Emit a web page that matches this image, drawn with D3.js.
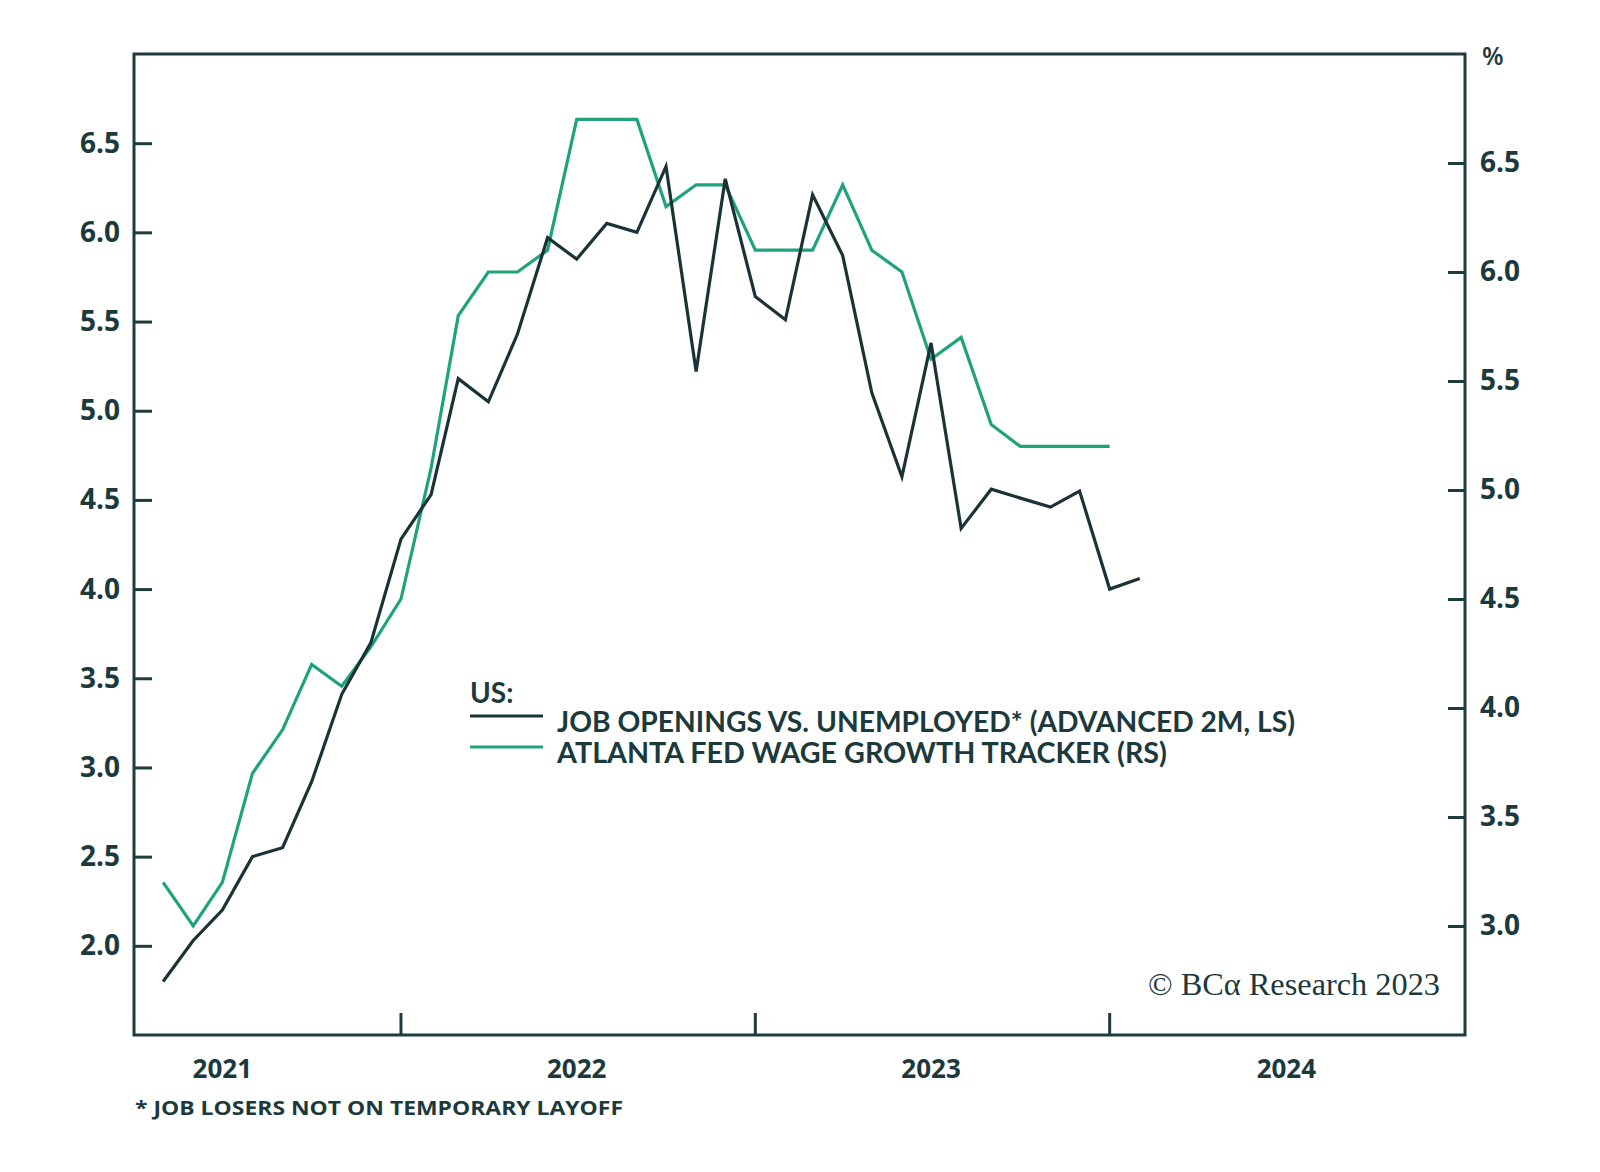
<!DOCTYPE html>
<html lang="en">
<head>
  <meta charset="UTF-8">
  <title>US: job openings vs. unemployed and wage growth</title>
  <style>
    html, body { margin: 0; padding: 0; background: #fff; }
    svg text { font-family: "Open Sans", Lato, sans-serif; fill: #1c393c; }
  </style>
</head>
<body>
<div class="chart"></div>
<script src="https://cdn.jsdelivr.net/npm/d3@7"></script>
<script>
  // monthly observations, first one is May 2021
  const startMonth = "2021-05";
  const jobOpenings = [1.80, 2.03, 2.20, 2.50, 2.55, 2.92, 3.41, 3.70, 4.28, 4.53,
    5.18, 5.05, 5.43, 5.97, 5.85, 6.05, 6.00, 6.37, 5.22, 6.30,
    5.64, 5.51, 6.21, 5.87, 5.10, 4.63, 5.38, 4.34, 4.56, 4.51,
    4.46, 4.55, 4.00, 4.06];
  const wageGrowth = [3.2, 3.0, 3.2, 3.7, 3.9, 4.2, 4.1, 4.28, 4.5, 5.1,
    5.8, 6.0, 6.0, 6.1, 6.7, 6.7, 6.7, 6.3, 6.4, 6.4,
    6.1, 6.1, 6.1, 6.4, 6.1, 6.0, 5.6, 5.7, 5.3, 5.2,
    5.2, 5.2, 5.2];
  const leftTicks = [2.0, 2.5, 3.0, 3.5, 4.0, 4.5, 5.0, 5.5, 6.0, 6.5];
  const rightTicks = [3.0, 3.5, 4.0, 4.5, 5.0, 5.5, 6.0, 6.5];
  const yearLabels = [2021, 2022, 2023, 2024];
  const yearTicks = [2022, 2023, 2024];
  const legendItems = [
    { label: "JOB OPENINGS VS. UNEMPLOYED* (ADVANCED 2M, LS)", color: "#1b3337" },
    { label: "ATLANTA FED WAGE GROWTH TRACKER (RS)", color: "#1fa37a" }
  ];

  const width = 1600,
    height = 1172,
    plotLeft = 134, plotRight = 1465, plotTop = 54, plotBottom = 1035;
  const ink = "#1e3b3f";

  const parseMonth = d3.timeParse("%Y-%m");
  const firstMonth = parseMonth(startMonth);
  const months = n => d3.range(n).map(i => d3.timeMonth.offset(firstMonth, i));

  const x = d3.scaleTime()
    .domain([new Date(2021, 3, 1), new Date(2025, 0, 1)])
    .range([plotLeft, plotRight]);
  const yLeft = d3.scaleLinear().domain([1.5, 7.0]).range([plotBottom, plotTop]);
  const yRight = d3.scaleLinear().domain([2.5, 7.0]).range([plotBottom, plotTop]);

  const svg = d3.select(".chart").append("svg")
    .attr("width", width)
    .attr("height", height);

  // frame
  svg.append("rect")
    .attr("x", plotLeft).attr("y", plotTop)
    .attr("width", plotRight - plotLeft).attr("height", plotBottom - plotTop)
    .attr("fill", "none").attr("stroke", ink).attr("stroke-width", 3);

  // left axis
  const axL = svg.append("g")
    .attr("transform", `translate(${plotLeft},0)`)
    .call(d3.axisLeft(yLeft).tickValues(leftTicks).tickFormat(d3.format(".1f"))
      .tickSize(-18).tickPadding(14));
  // right axis
  const axR = svg.append("g")
    .attr("transform", `translate(${plotRight},0)`)
    .call(d3.axisRight(yRight).tickValues(rightTicks).tickFormat(d3.format(".1f"))
      .tickSize(-17).tickPadding(15));
  [axL, axR].forEach(ax => {
    ax.select(".domain").remove();
    ax.selectAll("line").attr("stroke", ink).attr("stroke-width", 3);
    ax.selectAll("text")
      .attr("fill", "#1c393c")
      .style("font-size", "28px")
      .style("font-weight", 700)
      .style("font-family", "'Open Sans', sans-serif");
  });

  svg.append("text")
    .attr("x", 1482).attr("y", 65)
    .style("font-size", "25px").style("font-weight", 600)
    .text("%");

  // year boundary ticks
  svg.append("g").selectAll("line")
    .data(yearTicks)
    .enter()
    .append("line")
    .attr("x1", d => x(new Date(d, 0, 1)))
    .attr("x2", d => x(new Date(d, 0, 1)))
    .attr("y1", plotBottom)
    .attr("y2", plotBottom - 22)
    .attr("stroke", ink)
    .attr("stroke-width", 3);

  // year labels in the middle of each year
  svg.append("g").selectAll("text")
    .data(yearLabels)
    .enter()
    .append("text")
    .attr("x", d => x(new Date(d, 6, 1)))
    .attr("y", 1078)
    .attr("text-anchor", "middle")
    .style("font-size", "26px")
    .style("font-weight", 700)
    .text(d => d);

  // series
  const lineLeft = d3.line().x(d => x(d.date)).y(d => yLeft(d.value));
  const lineRight = d3.line().x(d => x(d.date)).y(d => yRight(d.value));

  const jobData = months(jobOpenings.length).map((date, i) => ({ date, value: jobOpenings[i] }));
  const wageData = months(wageGrowth.length).map((date, i) => ({ date, value: wageGrowth[i] }));

  svg.append("path")
    .datum(wageData)
    .attr("d", lineRight)
    .attr("fill", "none")
    .attr("stroke", legendItems[1].color)
    .attr("stroke-width", 3.2)
    .attr("stroke-linejoin", "miter");

  svg.append("path")
    .datum(jobData)
    .attr("d", lineLeft)
    .attr("fill", "none")
    .attr("stroke", legendItems[0].color)
    .attr("stroke-width", 3.2)
    .attr("stroke-linejoin", "miter");

  // legend
  const legend = svg.append("g").attr("transform", "translate(470,0)");
  legend.append("text")
    .attr("x", 0).attr("y", 703)
    .style("font-size", "28px").style("font-weight", 700)
    .style("font-family", "Lato, sans-serif")
    .text("US:");
  const legendLengths = [738, 610];
  legendItems.forEach((item, i) => {
    const yy = 716 + i * 31;
    legend.append("line")
      .attr("x1", 0).attr("x2", 73)
      .attr("y1", yy).attr("y2", yy)
      .attr("stroke", item.color).attr("stroke-width", 3);
    legend.append("text")
      .attr("x", 87).attr("y", yy + 16)
      .attr("textLength", legendLengths[i])
      .attr("lengthAdjust", "spacingAndGlyphs")
      .style("font-size", "28px").style("font-weight", 700)
      .style("font-family", "Lato, sans-serif")
      .text(item.label);
  });

  // copyright
  svg.append("text")
    .attr("x", 1148).attr("y", 995)
    .attr("textLength", 292)
    .attr("lengthAdjust", "spacingAndGlyphs")
    .style("font-family", "'Liberation Serif', 'DejaVu Serif', serif")
    .style("font-size", "31px")
    .text("© BCα Research 2023");

  // footnote
  svg.append("text")
    .attr("x", 135).attr("y", 1115)
    .attr("textLength", 488)
    .attr("lengthAdjust", "spacingAndGlyphs")
    .style("font-size", "20px")
    .style("font-weight", 700)
    .text("* JOB LOSERS NOT ON TEMPORARY LAYOFF");
</script>
</body>
</html>
